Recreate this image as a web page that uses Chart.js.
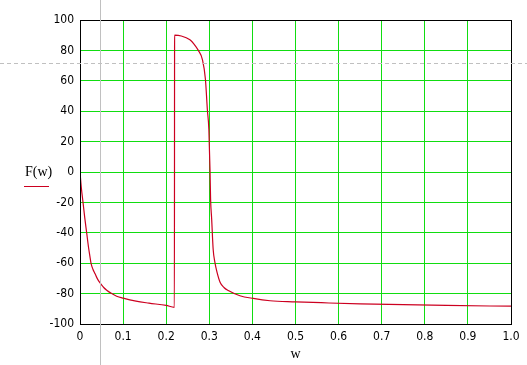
<!DOCTYPE html>
<html>
<head>
<meta charset="utf-8">
<script src="https://cdn.jsdelivr.net/npm/chart.js@4.4.1/dist/chart.umd.min.js"></script>
<style>
  html, body { margin: 0; padding: 0; background: #fff; }
  #wrap { width: 527px; height: 365px; }
</style>
</head>
<body>
<div id="wrap"><canvas id="plot"></canvas></div>
<script>
    // du lieu doc tu hinh
    var wVals = [0, 0.003, 0.007, 0.011, 0.0155, 0.02, 0.023, 0.0255, 0.03, 0.035, 0.039, 0.044,
        0.05, 0.055, 0.062, 0.0735, 0.085,
        0.1, 0.13, 0.16, 0.2, 0.219, 0.2195, 0.235, 0.255, 0.265, 0.2745, 0.284, 0.291,
        0.2955, 0.299, 0.3016, 0.303, 0.3055, 0.309, 0.313, 0.318, 0.325, 0.334, 0.344,
        0.371, 0.402, 0.441, 0.5, 0.56, 0.65, 0.75, 0.85, 1.0];
    var fVals = [0, -10, -20, -30, -40, -50, -55.5, -60, -64, -67, -69.5, -72,
        -74.3, -76, -77.8, -80, -81.7,
        -83, -85, -86.3, -87.8, -89, 90, 89.5, 87, 84, 80, 74, 61,
        41, 28, 2, -18, -31, -51, -59.5, -66, -72.5, -76, -78,
        -81.4, -83.2, -84.7, -85.4, -86, -86.8, -87.3, -87.8, -88.3];
    var xTicks = [0, 0.1, 0.2, 0.3, 0.4, 0.5, 0.6, 0.7, 0.8, 0.9, 1];
    var yTicks = [-100, -80, -60, -40, -20, 0, 20, 40, 60, 80, 100];
    var cursorPos = [0.046, 72]; // vi tri con tro (x, y)

    var tickFont = { family: "'Liberation Sans Narrow', 'DejaVu Sans Condensed', sans-serif", size: 12 };

    // ve khung, chu thich va con tro
    var extras = {
        id: 'extras',
        afterDraw: function (chart) {
            const ctx = chart.ctx;
            const a = chart.chartArea;
            const xs = chart.scales.x, ys = chart.scales.y;
            ctx.save();
            ctx.strokeStyle = '#000';
            ctx.lineWidth = 1;
            ctx.strokeRect(a.left + 0.5, a.top + 0.5, a.right - a.left, a.bottom - a.top);

            // chu thich F(w)
            const ds = chart.data.datasets[0];
            ctx.fillStyle = '#000';
            ctx.font = "14px 'Liberation Serif', serif";
            ctx.textAlign = 'left';
            ctx.textBaseline = 'middle';
            ctx.fillText(ds.label, 25, ys.getPixelForValue(0));
            ctx.strokeStyle = ds.borderColor;
            ctx.beginPath();
            ctx.moveTo(24, 186.5);
            ctx.lineTo(49, 186.5);
            ctx.stroke();

            // con tro
            const cx = Math.round(xs.getPixelForValue(cursorPos[0])) + 0.5;
            const cy = Math.round(ys.getPixelForValue(cursorPos[1])) + 0.5;
            ctx.strokeStyle = '#c0c0c0';
            ctx.beginPath();
            ctx.moveTo(cx, 0);
            ctx.lineTo(cx, chart.height);
            ctx.stroke();
            ctx.setLineDash([4, 3]);
            ctx.beginPath();
            ctx.moveTo(0, cy);
            ctx.lineTo(chart.width, cy);
            ctx.stroke();
            ctx.restore();
        }
    };

    var points = wVals.map(function (w, i) { return { x: w, y: fVals[i] }; });

    var chart = new Chart(document.getElementById('plot'), {
        type: 'line',
        data: {
            datasets: [{
                label: 'F(w)',
                data: points,
                borderColor: '#cc0020',
                borderWidth: 1.2,
                pointRadius: 0,
                cubicInterpolationMode: 'monotone',
                fill: false
            }]
        },
        options: {
            responsive: true,
            maintainAspectRatio: false,
            animation: false,
            layout: { padding: { left: 0, right: 16, top: 20, bottom: 0 } },
            plugins: { legend: { display: false }, tooltip: { enabled: false } },
            scales: {
                x: {
                    type: 'linear',
                    min: 0, max: 1,
                    afterBuildTicks: function (s) { s.ticks = xTicks.map(function (v) { return { value: v }; }); },
                    afterFit: function (s) { s.height = 41; },
                    grid: { color: '#11dd11', drawTicks: false, lineWidth: 1 },
                    border: { color: '#000', width: 1 },
                    ticks: { color: '#000', font: tickFont, padding: 6, maxRotation: 0, autoSkip: false },
                    title: {
                        display: true, text: 'w', color: '#000',
                        font: { family: "'Liberation Serif', serif", size: 14 },
                        padding: { top: 0, bottom: 2 }
                    }
                },
                y: {
                    min: -100, max: 100,
                    afterBuildTicks: function (s) { s.ticks = yTicks.map(function (v) { return { value: v }; }); },
                    afterFit: function (s) { s.width = 80; },
                    grid: { color: '#11dd11', drawTicks: false, lineWidth: 1 },
                    border: { color: '#000', width: 1 },
                    ticks: { color: '#000', font: tickFont, padding: 6, autoSkip: false }
                }
            }
        },
        plugins: [extras]
    });
</script>
</body>
</html>
